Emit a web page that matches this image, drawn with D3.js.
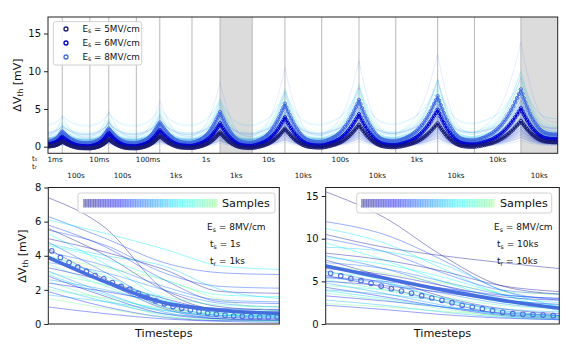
<!DOCTYPE html>
<html><head><meta charset="utf-8">
<script src="https://cdn.jsdelivr.net/npm/d3@7"></script>
<style>body{margin:0;background:#fff}svg{font-family:"DejaVu Sans",sans-serif}</style>
</head><body><svg id="c" width="570" height="352"></svg>
<script>
// ---------------- data ----------------
const stressLabels = ["1ms","10ms","100ms","1s","10s","100s","1ks","10ks"];
const stressSeconds = [1e-3,1e-2,1e-1,1,10,100,1e3,1e4];
const recoveryLabels = ["100s","100s","1ks","1ks","10ks","10ks","10ks","10ks"];
const recoverySeconds = [100,100,1e3,1e3,1e4,1e4,1e4,1e4];
const highlightedRecovery = [3,7];
const fieldNames = ["5MV/cm","6MV/cm","8MV/cm"];
const initialValues = [0.05, 0.3, 0.6];
const peaksEs5 = [0.7, 1.0, 1.45, 1.9, 2.4, 2.9, 3.1, 3.4];
const peaksEs6 = [1.3, 1.8, 2.2, 3.1, 3.9, 4.3, 4.9, 5.1];
const peaksEs8 = [2.0, 2.4, 3.2, 4.6, 5.7, 6.2, 6.7, 7.6];
const troughsEs5 = [-0.2, -0.2, -0.15, -0.15, -0.1, -0.05, 0.0, 0.6];
const troughsEs6 = [0.05, 0.05, 0.1, 0.1, 0.15, 0.2, 0.3, 1.0];
const troughsEs8 = [0.45, 0.45, 0.5, 0.5, 0.6, 0.7, 0.8, 1.6];
// normalised shape of one stress / recovery phase, read from the 10s / 10ks cycle
const stressProfile = [0,0.01,0.02,0.03,0.05,0.06,0.08,0.10,0.12,0.14,0.17,0.20,0.23,0.27,0.31,0.36,0.41,0.47,0.53,0.60,0.67,0.75,0.83,0.91,1];
const recoveryProfile = [1,0.9,0.8,0.71,0.62,0.54,0.46,0.39,0.33,0.27,0.22,0.17,0.13,0.10,0.07,0.05,0.035,0.025,0.015,0.01,0.005,0,0,0,0];
const topTicks = [0, 5, 10, 15];

// bottom-left: Es=8MV/cm, ts=1s, tr=1ks
const markersLeft = [4.29,3.9,3.6,3.33,3.08,2.84,2.65,2.43,2.2,2.04,1.8,1.57,1.35,1.18,1.02,0.92,0.82,0.72,0.63,0.57,0.51,0.47,0.45,0.43,0.41,0.41,0.41];
const meanLeft = [3.9, 2.45, 1.25, 0.8, 0.62];
const samplesLeft = [
 [7.4,5.6,2.0,0.8,0.6],[6.3,5.0,3.6,3.0,2.9],[6.1,5.3,4.4,3.4,3.2],[5.6,4.0,2.0,1.0,0.8],
 [5.5,4.6,3.0,2.2,2.1],[5.3,3.5,1.5,0.6,0.4],[5.0,4.2,3.2,1.9,1.8],[4.8,3.0,1.2,0.5,0.4],
 [4.6,3.8,2.6,1.7,1.6],[4.4,2.6,1.0,0.4,0.3],[4.2,3.4,2.2,1.4,1.3],[4.0,2.8,1.4,0.9,0.8],
 [3.8,2.4,0.9,0.3,0.2],[3.6,3.0,2.0,1.2,1.0],[3.5,2.2,1.0,0.6,0.5],[3.3,2.5,1.5,0.8,0.7],
 [3.1,1.8,0.7,0.3,0.2],[3.0,2.3,1.6,1.1,1.0],[2.8,1.6,0.6,0.3,0.25],[2.6,2.0,1.2,0.7,0.6],
 [2.5,1.4,0.5,0.2,0.15],[2.4,1.9,1.3,0.9,0.85],[2.2,1.3,0.6,0.4,0.35],[2.0,1.5,0.9,0.6,0.55],
 [1.9,1.0,0.4,0.2,0.2],[1.7,1.3,0.8,0.5,0.45],[1.5,0.9,0.4,0.25,0.2],[1.0,0.6,0.3,0.15,0.1],
 [4.7,4.0,3.4,2.0,1.5],[3.9,3.3,2.6,1.4,0.7],[5.8,4.5,2.6,1.3,1.2],[2.9,1.7,0.8,0.5,0.5]
];
const leftTicks = [0, 2, 4, 6, 8];
const leftNotes = [["E","s"," = 8MV/cm"],["t","s"," = 1s"],["t","r"," = 1ks"]];

// bottom-right: Es=8MV/cm, ts=10ks, tr=10ks
const markersRight = [5.94,5.63,5.31,5.08,4.77,4.45,4.14,3.87,3.6,3.32,3.05,2.77,2.5,2.19,1.99,1.8,1.56,1.37,1.21,1.13,1.1,1.05,0.98];
const meanRight = [6.8, 5.4, 4.0, 2.8, 1.85];
const samplesRight = [
 [15.5,12.5,8.0,4.5,3.5],[12.0,10.5,7.5,4.0,2.8],[11.2,9.5,6.5,3.5,2.5],[10.5,9.0,8.0,7.2,6.5],
 [10.0,8.5,6.0,4.0,3.5],[9.5,7.5,5.0,3.0,2.2],[8.3,7.5,6.2,4.5,3.8],[8.0,6.5,4.5,2.8,2.0],
 [7.8,7.0,5.5,3.5,1.5],[7.5,5.5,3.2,1.8,1.2],[7.2,6.5,5.0,3.5,3.0],[7.0,5.0,3.0,1.5,1.0],
 [6.5,5.8,4.5,3.2,2.8],[6.2,4.8,3.0,1.6,1.0],[6.0,5.4,4.0,2.6,2.0],[5.7,4.3,2.6,1.2,0.8],
 [5.4,4.8,3.6,2.4,1.8],[5.2,4.0,2.6,1.4,0.9],[5.0,4.5,3.7,2.8,2.3],[4.8,3.6,2.2,1.1,0.7],
 [4.5,4.0,3.1,2.2,1.8],[4.3,3.2,2.0,1.0,0.6],[4.0,3.5,2.7,1.8,1.4],[3.6,2.8,1.8,0.9,0.6],
 [3.3,2.7,2.0,1.3,1.0],[2.8,2.2,1.4,0.8,0.5],[2.4,2.0,1.5,1.0,0.8],[2.2,1.7,1.1,0.7,0.5],
 [9.0,8.5,7.0,4.0,2.0],[6.8,6.0,4.8,3.8,3.5],[5.5,5.0,4.2,3.4,3.0],[3.9,3.0,2.0,1.2,0.9]
];
const rightTicks = [0, 5, 10, 15];
const rightNotes = [["E","s"," = 8MV/cm"],["t","s"," = 10ks"],["t","r"," = 10ks"]];

// ---------------- helpers ----------------
const svg = d3.select("#c");
const fieldColors = ["#191970", "#0000cd", "#4169e1"];
function jet(t){
  const cl = v => Math.max(0, Math.min(1, v));
  const r = cl(1.5 - Math.abs(4*t - 3)), g = cl(1.5 - Math.abs(4*t - 2)), b = cl(1.5 - Math.abs(4*t - 1));
  return d3.rgb(r*255, g*255, b*255).formatHex();
}
function subText(g, x, y, parts, size, anchor, extra){
  const t = g.append("text").attr("x", x).attr("y", y).attr("font-size", size)
    .attr("text-anchor", anchor || "start").attr("dominant-baseline", "middle").attr("fill", "#111");
  if (extra) extra(t);
  t.append("tspan").text(parts[0]);
  t.append("tspan").attr("font-size", size*0.7).attr("dy", size*0.28).text(parts[1]);
  if (parts[2]) t.append("tspan").attr("dy", -size*0.28).text(parts[2]);
  return t;
}
function frame(g, x0, x1, y0, y1){
  g.append("rect").attr("x", x0).attr("y", y0).attr("width", x1-x0).attr("height", y1-y0)
    .attr("fill", "none").attr("stroke", "#222").attr("stroke-width", 1);
}
function yAxis(g, y, x0, ticks, size){
  const ax = d3.axisLeft(y).tickValues(ticks).tickSize(4).tickPadding(3).tickFormat(d3.format("d"));
  const a = g.append("g").attr("transform", `translate(${x0},0)`).call(ax);
  a.select(".domain").remove();
  a.selectAll("line").attr("stroke", "#222");
  a.selectAll("text").attr("font-size", size).attr("fill", "#111").attr("font-family", '"DejaVu Sans",sans-serif');
}

// ---------------- top panel ----------------
const T = {x0: 48, x1: 557.7, y0: 17, y1: 153.3};
const segs = []; let pos = 0;
stressSeconds.forEach((s, c) => {
  const ws = Math.log10(s) + 6.1;
  segs.push({kind: "s", c, a: pos, b: pos + ws, label: stressLabels[c]}); pos += ws;
  const wr = Math.log10(recoverySeconds[c]) + 4.0;
  segs.push({kind: "r", c, a: pos, b: pos + wr, label: recoveryLabels[c]}); pos += wr;
});
const xT = d3.scaleLinear().domain([0, pos]).range([T.x0, T.x1]);
const yT = d3.scaleLinear().domain([-0.875, 17.19]).range([T.y1, T.y0]);

const peaksAll = [peaksEs5, peaksEs6, peaksEs8];
const troughsAll = [troughsEs5, troughsEs6, troughsEs8];
function fieldKnots(fi){
  const pts = [];
  segs.forEach(s => {
    const prof = s.kind === "s" ? stressProfile : recoveryProfile;
    const n = prof.length - 1;
    const hi = peaksAll[fi][s.c];
    const lo = s.kind === "s" ? (s.c === 0 ? initialValues[fi] : troughsAll[fi][s.c-1]) : troughsAll[fi][s.c];
    prof.forEach((p, j) => {
      if (j === 0 && pts.length) return;
      pts.push({x: s.a + (s.b - s.a) * j / n, y: lo + (hi - lo) * p});
    });
  });
  return pts;
}
const knots = [0,1,2].map(fieldKnots);

const gT = svg.append("g");
svg.append("clipPath").attr("id", "clipT").append("rect").attr("x", T.x0).attr("y", T.y0)
  .attr("width", T.x1-T.x0).attr("height", T.y1-T.y0);
const plotT = gT.append("g").attr("clip-path", "url(#clipT)");

segs.filter(s => s.kind === "r" && highlightedRecovery.includes(s.c)).forEach(s => {
  plotT.append("rect").attr("x", xT(s.a)).attr("y", T.y0).attr("width", xT(s.b)-xT(s.a)).attr("height", T.y1-T.y0)
    .attr("fill", "#dcdcdc");
});
segs.slice(0, -1).forEach(s => {
  plotT.append("line").attr("x1", xT(s.b)).attr("x2", xT(s.b)).attr("y1", T.y0).attr("y2", T.y1)
    .attr("stroke", "#b9b9b9").attr("stroke-width", 1);
});

const lineT = d3.line().x(d => xT(d.x)).y(d => yT(d.y)).curve(d3.curveMonotoneX);
const refSpan = markersLeft[0] - markersLeft[markersLeft.length-1];
const tRanges = [[0.0, 0.2], [0.1, 0.32], [0.22, 0.5]];
const nS = samplesLeft.length;
[0,1,2].forEach(fi => {
  const ratio = peaksAll[fi][7] / peaksEs8[7];
  samplesLeft.forEach((s, k) => {
    const amp = (s[0] - s[s.length-1]) / refSpan;
    const off = s[s.length-1] * ratio * 0.8;
    const tt = tRanges[fi][0] + (tRanges[fi][1]-tRanges[fi][0]) * ((k*7) % nS) / (nS-1);
    plotT.append("path").attr("d", lineT(knots[fi].map(p => ({x: p.x, y: off + amp * p.y}))))
      .attr("fill", "none").attr("stroke", jet(tt)).attr("stroke-opacity", 0.14).attr("stroke-width", 0.8);
  });
});
[2,1,0].forEach(fi => {
  plotT.append("path").attr("d", lineT(knots[fi])).attr("fill", "none")
    .attr("stroke", fieldColors[fi]).attr("stroke-width", 1.3);
});
[2,1,0].forEach(fi => {
  plotT.append("g").selectAll("circle").data(knots[fi]).join("circle")
    .attr("cx", d => xT(d.x)).attr("cy", d => yT(d.y)).attr("r", 1.7)
    .attr("fill", "none").attr("stroke", fieldColors[fi]).attr("stroke-width", 0.9);
});
frame(gT, T.x0, T.x1, T.y0, T.y1);
yAxis(gT, yT, T.x0, topTicks, 10);

subText(gT, 32, 158.5, ["t","s",""], 7);
subText(gT, 32, 166.5, ["t","r",""], 7);
segs.forEach(s => {
  gT.append("text").attr("x", xT((s.a+s.b)/2)).attr("y", s.kind === "s" ? 160 : 176)
    .attr("text-anchor", "middle").attr("dominant-baseline", "middle").attr("font-size", 7.2)
    .attr("fill", "#111").text(s.label);
});
subText(gT, 0, 0, ["ΔV","th"," [mV]"], 11, "middle", t => t.attr("transform", "translate(18,85) rotate(-90)"));

const lg = gT.append("g");
lg.append("rect").attr("x", 53.3).attr("y", 21.7).attr("width", 88.4).attr("height", 43.3).attr("rx", 2.5)
  .attr("fill", "#fff").attr("fill-opacity", 0.85).attr("stroke", "#d0d0d0");
fieldNames.forEach((f, i) => {
  lg.append("circle").attr("cx", 66).attr("cy", 29 + 14*i).attr("r", 2).attr("fill", "none")
    .attr("stroke", fieldColors[i]).attr("stroke-width", 1.3);
  subText(lg, 82.5, 29 + 14*i, ["E", "s", " = " + f], 8.8);
});

// ---------------- bottom panels ----------------
function bottomPanel(P){
  const g = svg.append("g");
  const x = d3.scaleLinear().domain([0, 1]).range([P.x0, P.x1]);
  const y = d3.scaleLinear().domain([0, P.ymax]).range([P.y1, P.y0]);
  const cid = "clip" + P.id;
  svg.append("clipPath").attr("id", cid).append("rect").attr("x", P.x0).attr("y", P.y0)
    .attr("width", P.x1-P.x0).attr("height", P.y1-P.y0);
  const pg = g.append("g").attr("clip-path", `url(#${cid})`);
  const ln = d3.line().x((d, i, a) => x(i / (a.length - 1))).y(d => y(d)).curve(d3.curveMonotoneX);
  const n = P.samples.length;
  P.samples.forEach((s, k) => {
    pg.append("path").attr("d", ln(s)).attr("fill", "none")
      .attr("stroke", jet(0.5 * ((k*11) % n) / (n-1))).attr("stroke-opacity", 0.4).attr("stroke-width", 1);
  });
  pg.append("path").attr("d", ln(P.mean)).attr("fill", "none").attr("stroke", "#3f68dc")
    .attr("stroke-width", 3.6).attr("stroke-opacity", 0.95);
  const m = P.markers.length;
  pg.append("g").selectAll("circle").data(P.markers).join("circle")
    .attr("cx", (d, i) => x(P.mStart + i * (P.mEnd - P.mStart) / (m - 1))).attr("cy", d => y(d))
    .attr("r", 2.3).attr("fill", "none").attr("stroke", "#4a72e0").attr("stroke-width", 1.1);
  frame(g, P.x0, P.x1, P.y0, P.y1);
  yAxis(g, y, P.x0, P.ticks, 10);
  g.append("text").attr("x", (P.x0+P.x1)/2).attr("y", 337).attr("text-anchor", "middle")
    .attr("font-size", 11.2).attr("fill", "#111").text("Timesteps");
  const L = P.legend;
  g.append("rect").attr("x", L.x0).attr("y", 193).attr("width", L.x1 - L.x0).attr("height", 20).attr("rx", 2.5)
    .attr("fill", "#fff").attr("fill-opacity", 0.85).attr("stroke", "#d0d0d0");
  const nb = 54;
  d3.range(nb).forEach(i => {
    const bx = L.b0 + (L.b1 - L.b0) * i / nb;
    g.append("rect").attr("x", bx).attr("y", 199).attr("width", (L.b1-L.b0)/nb + 0.6).attr("height", 8.5)
      .attr("fill", jet(0.5 * i / (nb-1))).attr("fill-opacity", 0.38);
  });
  g.append("text").attr("x", L.tx).attr("y", 203.5).attr("dominant-baseline", "middle")
    .attr("font-size", 11.2).attr("fill", "#111").text("Samples");
  P.notes.forEach((nt, i) => subText(g, P.nx + (i ? 3 : 0), 227 + 17*i, nt, 9));
  if (P.ylabel) subText(g, 0, 0, ["ΔV","th"," [mV]"], 11, "middle", t => t.attr("transform", "translate(23,256) rotate(-90)"));
}
bottomPanel({id: "L", x0: 48.3, x1: 279.3, y0: 187.5, y1: 324, ymax: 8, ticks: leftTicks,
  samples: samplesLeft, mean: meanLeft, markers: markersLeft, mStart: 0.015, mEnd: 0.99,
  legend: {x0: 78, x1: 275, b0: 83, b1: 217, tx: 222}, notes: leftNotes, nx: 207, ylabel: true});
bottomPanel({id: "R", x0: 325.7, x1: 559.3, y0: 187.5, y1: 324, ymax: 16, ticks: rightTicks,
  samples: samplesRight, mean: meanRight, markers: markersRight, mStart: 0.021, mEnd: 0.974,
  legend: {x0: 356.7, x1: 551.7, b0: 361, b1: 494, tx: 500}, notes: rightNotes, nx: 494, ylabel: false});
</script></body></html>
